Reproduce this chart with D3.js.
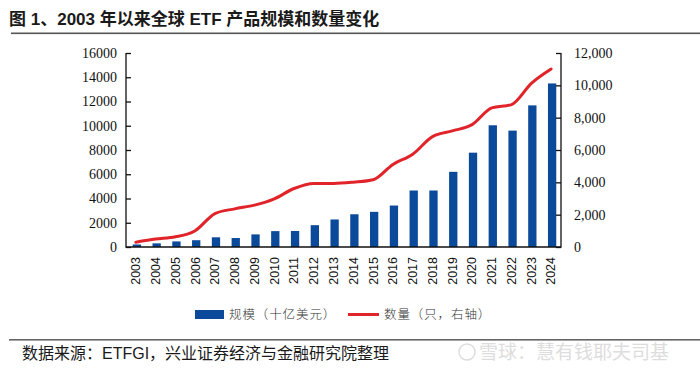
<html>
<head>
<meta charset="utf-8">
<script src="https://d3js.org/d3.v7.min.js"></script>
<style>
body { margin: 0; background: #fff; }
svg { display: block; }
</style>
</head>
<body>
<svg id="chart" width="700" height="371"></svg>
<script>

var years = ["2003","2004","2005","2006","2007","2008","2009","2010","2011","2012","2013",
	"2014","2015","2016","2017","2018","2019","2020","2021","2022","2023","2024"]
// 规模（十亿美元）, left axis
var aum = [210, 300, 460, 560, 800, 740, 1040, 1310, 1320, 1800, 2270,
	2700, 2900, 3420, 4660, 4660, 6200, 7780, 10040, 9600, 11680, 13490]
// 数量（只）, right axis
var count = [300, 490, 630, 1010, 2070, 2360, 2590, 2980, 3620, 3930, 3930,
	4010, 4160, 5110, 5740, 6830, 7180, 7570, 8610, 8810, 10120, 11010]
var leftTicks = [0, 2000, 4000, 6000, 8000, 10000, 12000, 14000, 16000]
var rightTicks = [0, 2000, 4000, 6000, 8000, 10000, 12000]

var svg = d3.select("#chart"),
	margin = {top: 53, left: 126, bottom: 124, right: 139},
	width = +svg.attr("width"),
	height = +svg.attr("height");

var blue = "#0b4a9b", red = "#e0242a";

// title and rules
svg.append("text")
	.attr("x", 9).attr("y", 25)
	.attr("font-family", "'Liberation Sans', 'Noto Sans CJK SC'")
	.attr("font-weight", "bold")
	.attr("font-size", 17)
	.attr("fill", "#1a1a1a")
	.text("图 1、2003 年以来全球 ETF 产品规模和数量变化")

svg.append("rect").attr("x", 11).attr("y", 32.5).attr("width", 689).attr("height", 1.6).attr("fill", "#555")
svg.append("rect").attr("x", 9).attr("y", 339).attr("width", 691).attr("height", 1.6).attr("fill", "#666")

var x = d3.scaleBand()
	.domain(years)
	.range([margin.left, width - margin.right])

var y = d3.scaleLinear()
	.domain([0, 16000])
	.range([height - margin.bottom, margin.top])

var y2 = d3.scaleLinear()
	.domain([0, 12000])
	.range([height - margin.bottom, margin.top])

var barW = x.bandwidth() * 0.42

svg.append("g")
	.selectAll("rect")
	.data(aum)
	.enter().append("rect")
	.attr("x", (d, i) => x(years[i]) + x.bandwidth() / 2 - barW / 2 + 1)
	.attr("y", d => y(d))
	.attr("width", barW)
	.attr("height", d => y(0) - y(d))
	.attr("fill", blue)

var line = d3.line()
	.x((d, i) => x(years[i]) + x.bandwidth() / 2)
	.y(d => y2(d))
	.curve(d3.curveMonotoneX)

svg.append("path")
	.datum(count)
	.attr("d", line)
	.attr("fill", "none")
	.attr("stroke", red)
	.attr("stroke-width", 3)
	.attr("stroke-linejoin", "round")
	.attr("stroke-linecap", "round")

// axes
var leftAxis = svg.append("g")
	.attr("transform", `translate(${margin.left},0)`)
	.call(d3.axisRight(y).tickValues(leftTicks).tickSize(5).tickFormat(d3.format("d")).tickSizeOuter(0))
leftAxis.selectAll("text")
	.attr("x", -9)
	.attr("text-anchor", "end")
leftAxis.select(".domain").remove()

var rightAxis = svg.append("g")
	.attr("transform", `translate(${width - margin.right},0)`)
	.call(d3.axisLeft(y2).tickValues(rightTicks).tickSize(5).tickFormat(d3.format(",")).tickSizeOuter(0))
rightAxis.selectAll("text")
	.attr("x", 13)
	.attr("text-anchor", "start")
rightAxis.select(".domain").remove()

svg.selectAll(".tick text")
	.attr("font-family", "'Liberation Serif', serif")
	.attr("font-size", 14)
	.attr("fill", "#111")
svg.selectAll(".tick line").attr("stroke", "#111").attr("stroke-width", 1.3)

// frame lines: left, right, bottom
svg.append("path")
	.attr("d", `M${margin.left},${margin.top}V${y(0)}H${width - margin.right}V${margin.top}`)
	.attr("fill", "none")
	.attr("stroke", "#111")
	.attr("stroke-width", 1.3)

var xAxis = svg.append("g")
	.attr("transform", `translate(0,${y(0)})`)
	.call(d3.axisBottom(x).tickSize(0))
xAxis.select(".domain").remove()
xAxis.selectAll("text")
	.attr("font-family", "'Liberation Sans', Arial, sans-serif")
	.attr("font-size", 12.5)
	.attr("fill", "#111")
	.attr("text-anchor", "end")
	.attr("transform", "rotate(-90)")
	.attr("x", -10)
	.attr("y", 0)
	.attr("dy", "0.35em")

// legend
var legend = svg.append("g")
	.attr("font-family", "'Noto Sans CJK SC'")
	.attr("font-weight", 300)
	.attr("font-size", 12.5)
	.attr("fill", "#333")
	.attr("letter-spacing", 0.9)

legend.append("rect")
	.attr("x", 195).attr("y", 310).attr("width", 29).attr("height", 9).attr("fill", blue)
legend.append("text")
	.attr("x", 229).attr("y", 319).text("规模（十亿美元）")
legend.append("line")
	.attr("x1", 348).attr("x2", 379).attr("y1", 314.5).attr("y2", 314.5)
	.attr("stroke", red).attr("stroke-width", 3)
legend.append("text")
	.attr("x", 384).attr("y", 319).text("数量（只，右轴）")

// source and watermark
svg.append("text")
	.attr("x", 22).attr("y", 359)
	.attr("font-family", "'Liberation Sans', 'Noto Sans CJK SC'")
	.attr("font-size", 16)
	.attr("fill", "#1a1a1a")
	.text("数据来源：ETFGI，兴业证券经济与金融研究院整理")

svg.append("circle")
	.attr("cx", 467).attr("cy", 352).attr("r", 8)
	.attr("fill", "none").attr("stroke", "#ddd").attr("stroke-width", 1.5)
svg.append("text")
	.attr("x", 479).attr("y", 359)
	.attr("font-family", "'Noto Sans CJK SC'")
	.attr("font-size", 19)
	.attr("fill", "#ddd")
	.text("雪球：慧有钱耶夫司基")

</script>
</body>
</html>
